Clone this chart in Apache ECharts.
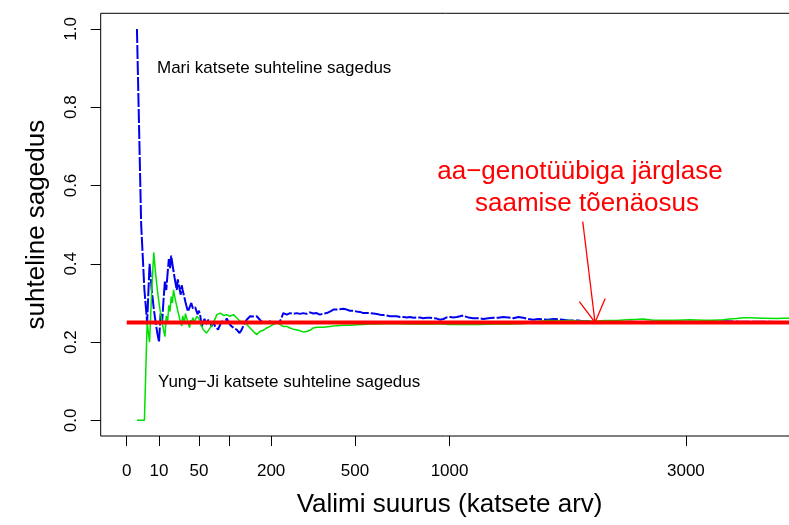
<!DOCTYPE html>
<html><head><meta charset="utf-8">
<script src="https://cdn.jsdelivr.net/npm/echarts@6/dist/echarts.min.js"></script>
<style>html,body{margin:0;padding:0;background:#fff}#c{width:789px;height:525px}</style>
</head><body><div id="c"></div>
<script>
// ---- data (sample size n, relative frequency) ----
const xTickValues = [0, 10, 50, 100, 200, 500, 1000, 3000];
const xLabelValues = [0, 10, 50, 200, 500, 1000, 3000];
const yTickValues = [0, 0.2, 0.4, 0.6, 0.8, 1.0];

const mariSeries = [[1,1.0],[2,0.5],[3,0.333],[4,0.25],[5,0.4],[6,0.333],[7,0.286],[8,0.25],[9,0.222],[10,0.2],[11,0.273],[12,0.25],[13,0.308],[14,0.357],[15,0.333],[16,0.375],[17,0.412],[18,0.389],[19,0.421],[20,0.4],[21,0.381],[22,0.364],[23,0.348],[24,0.333],[25,0.36],[26,0.346],[27,0.333],[28,0.321],[29,0.345],[30,0.333],[31,0.323],[32,0.313],[33,0.303],[34,0.294],[35,0.286],[36,0.278],[38,0.289],[40,0.3],[42,0.286],[45,0.289],[48,0.271],[50,0.28],[52,0.266],[54,0.24],[56,0.25],[58,0.259],[61,0.246],[64,0.257],[67,0.25],[69,0.24],[72,0.25],[75,0.24],[80,0.232],[84,0.245],[87,0.253],[92,0.25],[96,0.26],[99,0.253],[102,0.245],[106,0.24],[111,0.235],[116,0.232],[122,0.223],[126,0.23],[130,0.24],[134,0.25],[138,0.257],[142,0.262],[146,0.266],[150,0.262],[156,0.265],[162,0.266],[170,0.257],[179,0.249],[188,0.25],[197,0.253],[206,0.249],[216,0.249],[225,0.253],[230,0.262],[235,0.274],[246,0.27],[256,0.274],[266,0.272],[277,0.274],[288,0.272],[299,0.274],[310,0.272],[322,0.276],[334,0.273],[346,0.274],[358,0.27],[371,0.273],[384,0.274],[396,0.278],[410,0.283],[423,0.283],[436,0.284],[450,0.285],[464,0.283],[478,0.28],[493,0.28],[507,0.278],[522,0.277],[537,0.274],[554,0.274],[568,0.274],[584,0.273],[600,0.272],[615,0.27],[632,0.269],[648,0.268],[665,0.266],[682,0.266],[699,0.266],[717,0.264],[735,0.264],[752,0.263],[770,0.264],[788,0.262],[806,0.263],[825,0.263],[844,0.261],[863,0.262],[883,0.262],[902,0.261],[922,0.26],[942,0.257],[962,0.259],[982,0.263],[1003,0.264],[1023,0.263],[1045,0.264],[1066,0.266],[1087,0.268],[1103,0.265],[1119,0.263],[1152,0.261],[1186,0.261],[1220,0.259],[1254,0.261],[1290,0.262],[1325,0.262],[1361,0.264],[1397,0.263],[1434,0.261],[1471,0.264],[1508,0.262],[1546,0.259],[1586,0.257],[1625,0.259],[1665,0.258],[1705,0.257],[1746,0.259],[1787,0.258],[1829,0.257],[1871,0.255],[1913,0.255],[1956,0.255],[2000,0.253],[2044,0.253],[2088,0.251],[2133,0.251],[2179,0.25],[2225,0.251],[2271,0.25],[2350,0.251],[2450,0.252],[2550,0.251],[2650,0.252],[2750,0.251],[2850,0.252],[3000,0.252],[3150,0.251],[3300,0.252],[3450,0.253],[3600,0.252],[3750,0.252],[3900,0.252],[4050,0.251],[4350,0.252]];

const yungJiSeries = [[1,0],[2,0],[3,0],[4,0.25],[5,0.2],[6,0.333],[7,0.429],[8,0.375],[9,0.333],[10,0.3],[11,0.273],[12,0.25],[13,0.231],[14,0.214],[15,0.267],[16,0.25],[17,0.294],[18,0.278],[19,0.316],[20,0.3],[21,0.333],[22,0.318],[23,0.304],[24,0.292],[25,0.28],[26,0.269],[27,0.259],[28,0.25],[29,0.241],[30,0.267],[31,0.258],[32,0.25],[33,0.273],[34,0.265],[35,0.257],[36,0.25],[37,0.243],[38,0.237],[39,0.256],[40,0.25],[42,0.262],[44,0.25],[47,0.266],[50,0.26],[52,0.249],[54,0.24],[56,0.232],[58,0.228],[61,0.223],[64,0.23],[67,0.235],[72,0.249],[78,0.27],[84,0.274],[90,0.268],[96,0.27],[102,0.266],[109,0.27],[116,0.262],[123,0.253],[130,0.252],[138,0.245],[146,0.236],[154,0.227],[162,0.219],[170,0.227],[179,0.23],[188,0.236],[197,0.24],[206,0.245],[216,0.249],[225,0.245],[235,0.24],[246,0.24],[256,0.236],[266,0.233],[283,0.23],[299,0.226],[310,0.227],[322,0.23],[334,0.236],[346,0.238],[371,0.238],[396,0.24],[423,0.242],[450,0.243],[478,0.243],[507,0.244],[537,0.245],[568,0.246],[600,0.246],[650,0.247],[700,0.247],[750,0.246],[800,0.247],[850,0.246],[900,0.246],[950,0.246],[1000,0.245],[1100,0.245],[1200,0.245],[1300,0.246],[1400,0.246],[1500,0.247],[1550,0.249],[1600,0.252],[1650,0.254],[1700,0.255],[1750,0.255],[1800,0.254],[1850,0.255],[1900,0.255],[1950,0.254],[2000,0.254],[2100,0.254],[2200,0.255],[2300,0.255],[2400,0.257],[2500,0.258],[2560,0.259],[2660,0.256],[2780,0.256],[2900,0.256],[3044,0.257],[3189,0.256],[3300,0.256],[3414,0.257],[3491,0.259],[3570,0.26],[3647,0.262],[3727,0.262],[3888,0.261],[4053,0.26],[4136,0.261],[4350,0.26]];

const probabilityLine = [[0, 0.25], [4350, 0.25]];
const arrowFrom = [1995, 0.508];
const arrowTo = [2104, 0.25];

const mariLabel = 'Mari katsete suhteline sagedus';
const yungJiLabel = 'Yung\u2212Ji katsete suhteline sagedus';
const probLabel1 = 'aa\u2212genotüübiga järglase';
const probLabel2 = 'saamise tõenäosus';
const xTitle = 'Valimi suurus (katsete arv)';
const yTitle = 'suhteline sagedus';

// ---- chart ----
const FONT = '"Liberation Sans", Arial, Helvetica, sans-serif';
const toSqrt = d => [Math.sqrt(d[0]), d[1]];
const chart = echarts.init(document.getElementById('c'), null, {renderer: 'canvas'});

chart.setOption({
  animation: false,
  backgroundColor: '#fff',
  grid: {left: 100.7, top: 13.3, right: -9.5, bottom: 89, outerBoundsMode: 'none', containLabel: false,
         show: true, borderColor: '#000', borderWidth: 1, backgroundColor: 'transparent'},
  xAxis: {
    type: 'value', min: -2.55, max: 65.8,
    axisLine: {show: false, onZero: false},
    splitLine: {show: false},
    axisTick: {show: true, customValues: xTickValues.map(Math.sqrt), length: 10, lineStyle: {color: '#000', width: 1}},
    axisLabel: {customValues: xLabelValues.map(Math.sqrt), formatter: v => String(Math.round(v * v)), fontSize: 17, color: '#000', margin: 27, fontFamily: FONT},
    name: xTitle, nameLocation: 'middle', nameGap: 56,
    nameTextStyle: {fontSize: 26, color: '#000', fontFamily: FONT}
  },
  yAxis: {
    type: 'value', min: -0.04, max: 1.04,
    axisLine: {show: false, onZero: false},
    splitLine: {show: false},
    axisTick: {show: true, customValues: yTickValues, length: 10, lineStyle: {color: '#000', width: 1}},
    axisLabel: {customValues: yTickValues, formatter: v => v.toFixed(1), rotate: 90, fontSize: 17, color: '#000', margin: 21, fontFamily: FONT},
    name: yTitle, nameLocation: 'middle', nameRotate: 90, nameGap: 51,
    nameTextStyle: {fontSize: 26, color: '#000', fontFamily: FONT}
  },
  series: [
    {type: 'line', name: 'Mari', data: mariSeries.map(toSqrt), showSymbol: false, clip: true,
     lineStyle: {color: '#0000EE', width: 2, type: [14, 2]}, z: 2},
    {type: 'line', name: 'Yung-Ji', data: yungJiSeries.map(toSqrt), showSymbol: false, clip: true,
     lineStyle: {color: '#00E000', width: 1.5}, z: 3},
    {type: 'line', name: 'p', data: probabilityLine.map(toSqrt), showSymbol: false, clip: true,
     lineStyle: {color: '#FF0000', width: 4}, z: 4}
  ]
});

// annotations
const tail = chart.convertToPixel({gridIndex: 0}, toSqrt(arrowFrom));
const tip = chart.convertToPixel({gridIndex: 0}, toSqrt(arrowTo));
const ang = Math.atan2(tail[1] - tip[1], tail[0] - tip[0]);
const headLen = 26, headAng = Math.PI / 6;
const h1 = [tip[0] + headLen * Math.cos(ang + headAng), tip[1] + headLen * Math.sin(ang + headAng)];
const h2 = [tip[0] + headLen * Math.cos(ang - headAng), tip[1] + headLen * Math.sin(ang - headAng)];

chart.setOption({
  graphic: [
    {type: 'text', x: 157, y: 68, z: 10, style: {text: mariLabel, font: '17px ' + FONT, fill: '#000', align: 'left', verticalAlign: 'middle'}},
    {type: 'text', x: 158, y: 382, z: 10, style: {text: yungJiLabel, font: '17px ' + FONT, fill: '#000', align: 'left', verticalAlign: 'middle'}},
    {type: 'text', x: 580, y: 172, z: 10, style: {text: probLabel1, font: '26px ' + FONT, fill: '#FF0000', align: 'center', verticalAlign: 'middle'}},
    {type: 'text', x: 587, y: 204, z: 10, style: {text: probLabel2, font: '26px ' + FONT, fill: '#FF0000', align: 'center', verticalAlign: 'middle'}},
    {type: 'line', z: 10, shape: {x1: tail[0], y1: tail[1], x2: tip[0], y2: tip[1]}, style: {stroke: '#FF0000', lineWidth: 1.3}},
    {type: 'polyline', z: 10, shape: {points: [h1, tip, h2]}, style: {stroke: '#FF0000', lineWidth: 1.3, fill: null}}
  ]
});
</script>
</body></html>
